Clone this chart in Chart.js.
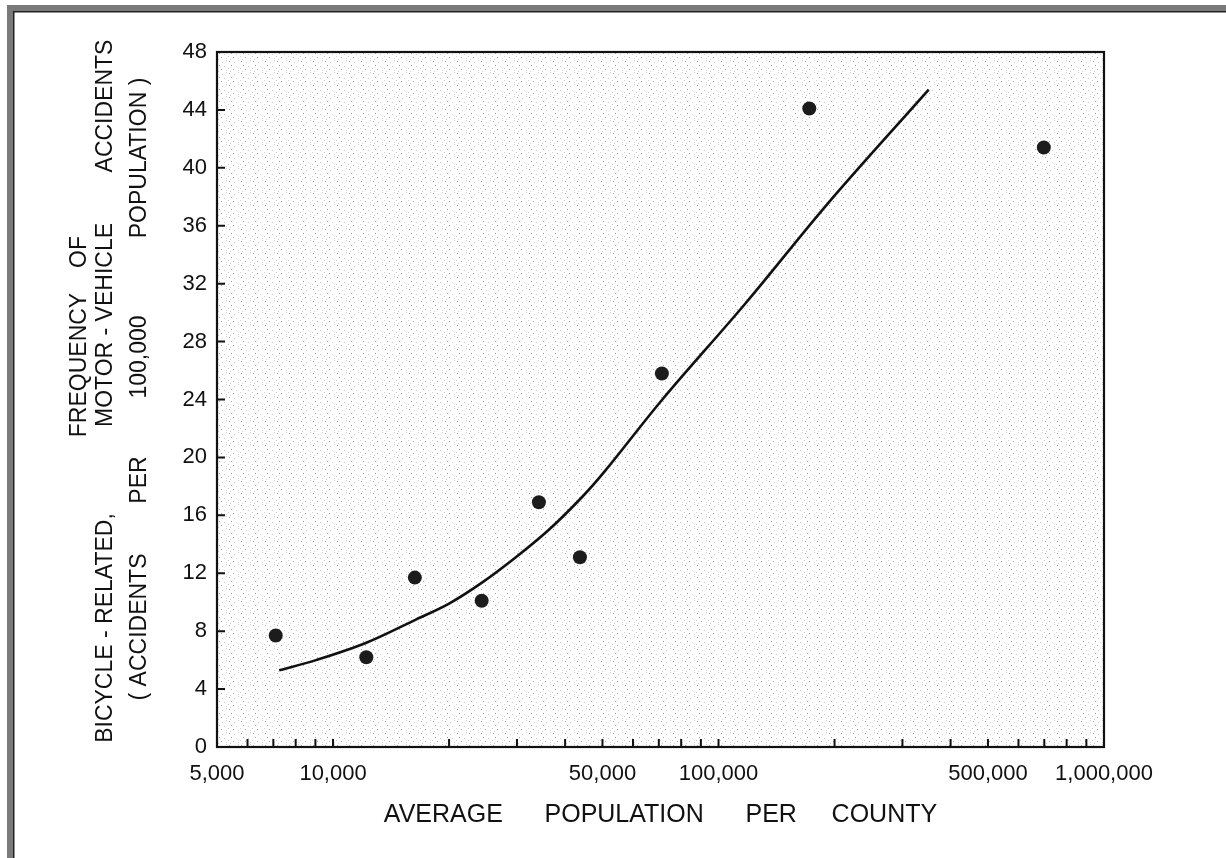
<!DOCTYPE html>
<html>
<head>
<meta charset="utf-8">
<script src="https://cdn.jsdelivr.net/npm/chart.js@4.4.1/dist/chart.umd.min.js"></script>
<style>
  html, body { margin: 0; padding: 0; background: #fff; }
  #wrap { width: 1226px; height: 858px; position: relative; }
</style>
</head>
<body>
<div id="wrap"><canvas id="chart"></canvas></div>
<script>
// --- Data ---
const POPULATION = [7100, 12200, 16300, 24300, 34200, 43700, 71300, 172000, 698000];
const ACCIDENT_RATE = [7.7, 6.2, 11.7, 10.1, 16.9, 13.1, 25.8, 44.1, 41.4];

// fitted curve, read at points along the drawn line
const CURVE_POP = [7250, 9030, 12200, 16400, 20000, 24500, 29800, 36300, 44400, 50900, 71500, 118000, 193000, 351000];
const CURVE_RATE = [5.3, 6.0, 7.2, 8.8, 9.9, 11.4, 13.1, 15.0, 17.3, 19.1, 24.0, 30.7, 37.6, 45.4];

const X_TICKS = [5000, 6000, 7000, 8000, 9000, 10000, 20000, 30000, 40000, 50000, 60000, 70000, 80000, 90000,
                 100000, 200000, 300000, 400000, 500000, 600000, 700000, 800000, 900000, 1000000];
const X_TICK_LABELS = ['5,000', '', '', '', '', '10,000', '', '', '', '50,000', '', '', '', '',
                       '100,000', '', '', '', '500,000', '', '', '', '', '1,000,000'];

const Y_TITLE_LINES = [
    { x: 80, parts: [['FREQUENCY', 365], ['OF', 252]] },
    { x: 106, parts: [['BICYCLE - RELATED,', 628], ['MOTOR - VEHICLE', 325], ['ACCIDENTS', 106]] },
    { x: 140, parts: [['( ACCIDENTS', 627], ['PER', 480], ['100,000', 357], ['POPULATION )', 158]] }
];

const FONT = "'Liberation Sans', Arial, sans-serif";
const INK = '#111';

// stipple tile for the plot background
function makeStipple() {
    const c = document.createElement('canvas');
    c.width = 12; c.height = 12;
    const g = c.getContext('2d');
    const dots = [[1, 1], [6, 2], [10, 0], [3, 5], [8, 6], [0, 8], [5, 9], [10, 10], [2, 11]];
    dots.forEach(([x, y], i) => {
        g.fillStyle = i % 3 === 0 ? '#a6a6a6' : '#d2d2d2';
        g.fillRect(x, y, 1, 1);
    });
    return c;
}

const paperPlugin = {
    id: 'paper',
    beforeDraw(chart) {
        const { ctx, chartArea: a } = chart;
        ctx.save();
        ctx.fillStyle = '#fff';
        ctx.fillRect(0, 0, chart.width, chart.height);
        // scanned outer frame (top + left)
        ctx.fillStyle = '#7a7a7a';
        ctx.fillRect(7, 5, chart.width - 7, 7);
        ctx.fillRect(7, 5, 7, chart.height - 5);
        ctx.fillStyle = '#222';
        ctx.fillRect(13, 11, chart.width - 13, 1.5);
        ctx.fillRect(13, 11, 1.5, chart.height - 11);
        // stippled plot area
        ctx.fillStyle = ctx.createPattern(makeStipple(), 'repeat');
        ctx.fillRect(a.left, a.top, a.right - a.left, a.bottom - a.top);
        ctx.restore();
    },
    afterDatasetsDraw(chart) {
        const { ctx, chartArea: a, scales } = chart;
        ctx.save();
        ctx.strokeStyle = INK;
        ctx.lineWidth = 2.2;
        ctx.strokeRect(a.left, a.top, a.right - a.left, a.bottom - a.top);
        ctx.lineWidth = 2;
        ctx.beginPath();
        scales.x.ticks.forEach(t => {
            const px = scales.x.getPixelForValue(t.value);
            ctx.moveTo(px, a.bottom);
            ctx.lineTo(px, a.bottom - 8);
        });
        scales.y.ticks.forEach(t => {
            const py = scales.y.getPixelForValue(t.value);
            ctx.moveTo(a.left, py);
            ctx.lineTo(a.left + 8, py);
        });
        ctx.stroke();

        // y axis title, three lettered lines
        ctx.fillStyle = INK;
        ctx.font = `23px ${FONT}`;
        ctx.textAlign = 'center';
        ctx.textBaseline = 'middle';
        Y_TITLE_LINES.forEach(line => {
            line.parts.forEach(([text, cy]) => {
                ctx.save();
                ctx.translate(line.x, cy);
                ctx.rotate(-Math.PI / 2);
                ctx.fillText(text, 0, 0);
                ctx.restore();
            });
        });
        ctx.restore();
    }
};

new Chart(document.getElementById('chart'), {
    type: 'scatter',
    data: {
        datasets: [
            {
                label: 'Counties',
                data: POPULATION.map((p, i) => ({ x: p, y: ACCIDENT_RATE[i] })),
                backgroundColor: '#1c1c1c',
                borderWidth: 0,
                pointRadius: 7,
                pointHoverRadius: 7
            },
            {
                label: 'Trend',
                data: CURVE_POP.map((p, i) => ({ x: p, y: CURVE_RATE[i] })),
                showLine: true,
                borderColor: INK,
                borderWidth: 2.6,
                pointRadius: 0,
                tension: 0.35,
                fill: false
            }
        ]
    },
    options: {
        responsive: true,
        maintainAspectRatio: false,
        animation: false,
        events: [],
        layout: { padding: { left: 0, top: 52, right: 122, bottom: 0 } },
        plugins: { legend: { display: false }, tooltip: { enabled: false } },
        scales: {
            x: {
                type: 'logarithmic',
                min: 5000,
                max: 1000000,
                afterBuildTicks: scale => { scale.ticks = X_TICKS.map(v => ({ value: v })); },
                afterFit: scale => { scale.height = 111; },
                grid: { display: false, drawTicks: false },
                border: { display: false },
                ticks: {
                    autoSkip: false,
                    maxRotation: 0,
                    minRotation: 0,
                    padding: 14,
                    color: INK,
                    font: { family: FONT, size: 22 },
                    callback: (value, index) => X_TICK_LABELS[index]
                },
                title: {
                    display: true,
                    text: 'AVERAGE      POPULATION      PER     COUNTY',
                    color: INK,
                    font: { family: FONT, size: 25 },
                    padding: { top: 0, bottom: 28 }
                }
            },
            y: {
                min: 0,
                max: 48,
                afterFit: scale => { scale.width = 217; },
                grid: { display: false, drawTicks: false },
                border: { display: false },
                ticks: {
                    stepSize: 4,
                    padding: 10,
                    color: INK,
                    font: { family: FONT, size: 22 }
                }
            }
        }
    },
    plugins: [paperPlugin]
});
</script>
</body>
</html>
